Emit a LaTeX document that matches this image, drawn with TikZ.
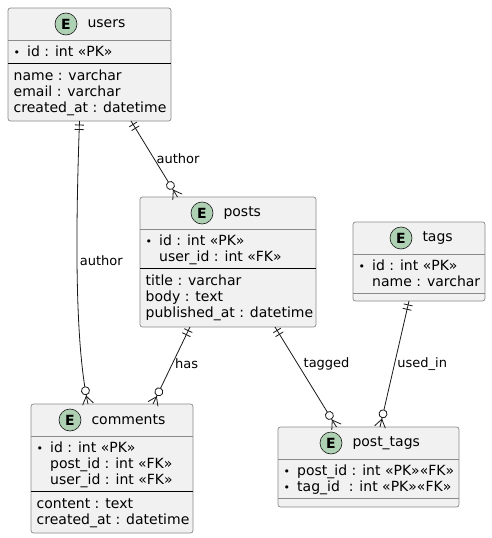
\documentclass[tikz,border=0pt]{standalone}
\usepackage{fontspec}
\setmainfont{DejaVu Sans}
\usetikzlibrary{positioning, decorations.markings}

\definecolor{boxfill}{HTML}{F1F1F1}
\definecolor{ink}{HTML}{181818}
\definecolor{spotgreen}{HTML}{ADD1B2}
\definecolor{rim}{HTML}{8A8A8A}

\newcommand{\pkdot}{\makebox[15pt][l]{\hspace{1.5pt}\fontsize{11}{11}\selectfont •}}
\newcommand{\pkgap}{\hspace*{15pt}}

\tikzset{
  entity/.style={draw=rim, fill=boxfill, line width=0.7pt, rounded corners=2.5pt,
    anchor=north west, inner sep=0pt, outer sep=0pt},
  spot/.style={circle, draw=ink, fill=spotgreen, line width=0.6pt, minimum size=22pt,
    inner sep=0pt, font=\fontsize{14}{16}\selectfont\bfseries},
  title/.style={inner sep=0pt, font=\fontsize{14}{16}\selectfont},
  attr/.style={anchor=base west, inner sep=0pt, font=\fontsize{14}{16.3}\selectfont},
  thinsep/.style={draw=rim, line width=0.7pt},
  pksep/.style={draw=black, line width=1pt},
  rel/.style={draw=ink, line width=0.8pt},
  lbl/.style={anchor=west, inner sep=2.5pt, font=\fontsize{13}{15}\selectfont},
  one/.style={postaction={decorate, decoration={markings,
      mark=at position 4pt with {\draw[ink, line width=0.8pt] (0,-4.5pt) -- (0,4.5pt);},
      mark=at position 8.5pt with {\draw[ink, line width=0.8pt] (0,-4.5pt) -- (0,4.5pt);}}}},
  zeromany/.style={postaction={decorate, decoration={markings,
      mark=at position -0.01pt with {\draw[ink, line width=0.8pt] (-8pt,0) -- (0,5.5pt) (-8pt,0) -- (0,-5.5pt);},
      mark=at position -13.5pt with {\draw[ink, line width=0.8pt, fill=white] (0,0) circle (4pt);}}}}
}

\begin{document}
\begin{tikzpicture}[x=1pt, y=1pt]
\useasboundingbox (0,0) rectangle (491,-538);

% users
\node[entity, minimum width=163pt, minimum height=113pt] (users) at (8,-8) {};
\draw[thinsep] ([yshift=-32pt]users.north west) -- ([yshift=-32pt]users.north east);
\draw[pksep] ([yshift=-55pt]users.north west) -- ([yshift=-55pt]users.north east);
\node[spot] (users-e) at (66,-24) {E};
\node[title, right=10pt of users-e] (users-t) {users};
\node[attr] (users-k1) at (12,-56) {\pkdot id : int «PK»};
\foreach \f [count=\i] in {name : varchar, email : varchar, created\_at : datetime}
  \node[attr] (users-a\i) at (13.5,{-80-16.3*(\i-1)}) {\f};

% posts
\node[entity, minimum width=176pt, minimum height=130pt] (posts) at (140,-197) {};
\draw[thinsep] ([yshift=-32pt]posts.north west) -- ([yshift=-32pt]posts.north east);
\draw[pksep] ([yshift=-71.3pt]posts.north west) -- ([yshift=-71.3pt]posts.north east);
\node[spot] (posts-e) at (202,-213) {E};
\node[title, right=10pt of posts-e] (posts-t) {posts};
\foreach \f [count=\i] in {\pkdot id : int «PK», \pkgap user\_id : int «FK»}
  \node[attr] (posts-k\i) at (144,{-245-16.3*(\i-1)}) {\f};
\foreach \f [count=\i] in {title : varchar, body : text, published\_at : datetime}
  \node[attr] (posts-a\i) at (145.5,{-285.3-16.3*(\i-1)}) {\f};

% tags
\node[entity, minimum width=132pt, minimum height=79pt] (tags) at (353,-222) {};
\draw[thinsep] ([yshift=-32pt]tags.north west) -- ([yshift=-32pt]tags.north east);
\draw[thinsep] ([yshift=-71.3pt]tags.north west) -- ([yshift=-71.3pt]tags.north east);
\node[spot] (tags-e) at (401,-238) {E};
\node[title, right=10pt of tags-e] (tags-t) {tags};
\foreach \f [count=\i] in {\pkdot id : int «PK», \pkgap name : varchar}
  \node[attr] (tags-k\i) at (357,{-270-16.3*(\i-1)}) {\f};

% comments
\node[entity, minimum width=162pt, minimum height=129pt] (comments) at (31,-404) {};
\draw[thinsep] ([yshift=-32pt]comments.north west) -- ([yshift=-32pt]comments.north east);
\draw[pksep] ([yshift=-87.6pt]comments.north west) -- ([yshift=-87.6pt]comments.north east);
\node[spot] (comments-e) at (70,-420) {E};
\node[title, right=10pt of comments-e] (comments-t) {comments};
\foreach \f [count=\i] in {\pkdot id : int «PK», \pkgap post\_id : int «FK», \pkgap user\_id : int «FK»}
  \node[attr] (comments-k\i) at (35,{-452-16.3*(\i-1)}) {\f};
\foreach \f [count=\i] in {content : text, created\_at : datetime}
  \node[attr] (comments-a\i) at (36.5,{-508.6-16.3*(\i-1)}) {\f};

% post_tags
\node[entity, minimum width=181pt, minimum height=80pt] (posttags) at (278,-427) {};
\draw[thinsep] ([yshift=-32pt]posttags.north west) -- ([yshift=-32pt]posttags.north east);
\draw[thinsep] ([yshift=-71.3pt]posttags.north west) -- ([yshift=-71.3pt]posttags.north east);
\node[spot] (posttags-e) at (331,-443) {E};
\node[title, right=10pt of posttags-e] (posttags-t) {post\_tags};
\foreach \f [count=\i] in {\pkdot post\_id : int «PK»«FK», \pkdot tag\_id\ \ : int «PK»«FK»}
  \node[attr] (posttags-k\i) at (282,{-475-16.3*(\i-1)}) {\f};

% relations
\draw[rel, one, zeromany] ([xshift=-10pt]users.south) .. controls (76,-220) and (74,-340) .. ([xshift=-24pt]comments.north)
  node[lbl, pos=0.45] (l-author1) {author};
\draw[rel, one, zeromany] ([xshift=41.5pt]users.south) -- ([xshift=-50.5pt]posts.north)
  node[lbl, pos=0.49] (l-author2) {author};
\draw[rel, one, zeromany] ([xshift=-38pt]posts.south) -- ([xshift=41pt]comments.north)
  node[lbl, pos=0.48] (l-has) {has};
\draw[rel, one, zeromany] ([xshift=47pt]posts.south) -- ([xshift=-32pt]posttags.north)
  node[lbl, pos=0.37, xshift=3pt] (l-tagged) {tagged};
\draw[rel, one, zeromany] ([xshift=-10pt]tags.south) -- ([xshift=11.5pt]posttags.north)
  node[lbl, pos=0.5] (l-used) {used\_in};
\end{tikzpicture}
\end{document}
